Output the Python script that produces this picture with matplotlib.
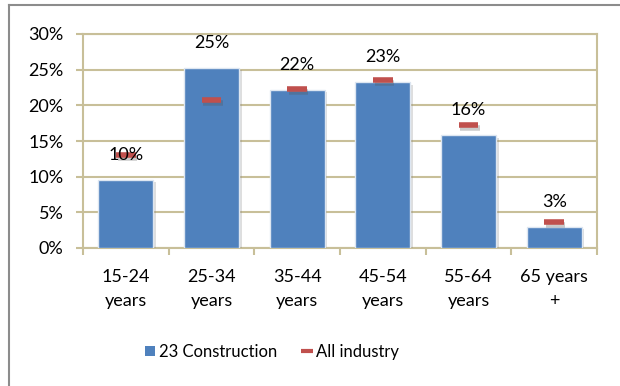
import matplotlib
matplotlib.use("Agg")
import matplotlib.pyplot as plt
import matplotlib.patheffects as pe
from matplotlib.lines import Line2D
from matplotlib.patches import Patch
from matplotlib.ticker import FixedLocator, FuncFormatter

# Age bands and share of workers (percent)
age_groups = ["15-24\nyears", "25-34\nyears", "35-44\nyears",
              "45-54\nyears", "55-64\nyears", "65 years\n+"]
construction = [9.6, 25.3, 22.2, 23.3, 15.8, 3.0]
all_industry = [13.0, 20.7, 22.3, 23.5, 17.2, 3.6]
y_ticks = [0, 5, 10, 15, 20, 25, 30]

BLUE = "#4F81BD"
RED = "#C0504D"
TAN = "#C8BF99"
FONT = ["Lato", "DejaVu Sans"]
FS = 13

plt.rcParams["font.family"] = FONT
plt.rcParams["font.size"] = FS

fig = plt.figure(figsize=(6.2, 3.86), dpi=100)
ax = fig.add_axes([83 / 620, 1 - 248 / 386, (597 - 83) / 620, (248 - 34) / 386])

x = list(range(len(age_groups)))

# Columns for the construction industry
bars = ax.bar(x, construction, width=0.64, color=BLUE, edgecolor="#DDE6F1",
              linewidth=1.0, zorder=3)
for b in bars:
    b.set_path_effects([pe.SimplePatchShadow(offset=(2, -2), alpha=0.25,
                                             shadow_rgbFace="#7f7f7f"),
                        pe.Normal()])

# All-industry reference as short dashes
ax.plot(x, all_industry, linestyle="none", marker="_", markersize=14,
        markeredgewidth=4, color=RED, zorder=4,
        path_effects=[pe.SimpleLineShadow(offset=(1, -2), alpha=0.3,
                                          shadow_color="#555555"),
                      pe.Normal()])

# Value labels above each column
for xi, v in zip(x, construction):
    ax.annotate(f"{v:.0f}%", xy=(xi, v), xytext=(0, 18),
                textcoords="offset points", ha="center", va="center",
                fontsize=FS, color="black", zorder=6)

ax.set_xlim(-0.5, len(age_groups) - 0.5)
ax.set_ylim(0, 30)

ax.yaxis.set_major_locator(FixedLocator(y_ticks))
ax.yaxis.set_major_formatter(FuncFormatter(lambda v, p: f"{v:.0f}%"))
ax.tick_params(axis="y", direction="out", length=5, width=1.5, color=TAN,
               pad=9, labelsize=FS)

ax.set_xticks(x)
ax.set_xticklabels(age_groups, linespacing=1.65)
ax.tick_params(axis="x", which="major", length=0, pad=15, labelsize=FS)
ax.set_xticks([i - 0.5 for i in range(len(age_groups) + 1)], minor=True)
ax.tick_params(axis="x", which="minor", direction="out", length=5, width=1.5,
               color=TAN)

ax.grid(axis="y", color=TAN, linewidth=1.5, zorder=0)
ax.set_axisbelow(True)
for s in ax.spines.values():
    s.set_color(TAN)
    s.set_linewidth(1.5)

# Legend
handles = [Patch(facecolor=BLUE, edgecolor="none", label="23 Construction"),
           Line2D([], [], linestyle="none", marker="_", markersize=9,
                  markeredgewidth=3, color=RED, label="All industry")]
fig.legend(handles=handles, loc="center", bbox_to_anchor=(272 / 620, 1 - 352 / 386),
           ncol=2, frameon=False, fontsize=12, handlelength=0.6,
           handleheight=0.6, handletextpad=0.25, columnspacing=1.5)

# Chart frame (top and left edges)
fig.add_artist(Line2D([9 / 620, 1], [1 - 5 / 386, 1 - 5 / 386],
                      transform=fig.transFigure, color="#8C8C8C", linewidth=1.5))
fig.add_artist(Line2D([9 / 620, 9 / 620], [0, 1 - 5 / 386],
                      transform=fig.transFigure, color="#8C8C8C", linewidth=1.5))

fig.savefig("out.png", dpi=100)
